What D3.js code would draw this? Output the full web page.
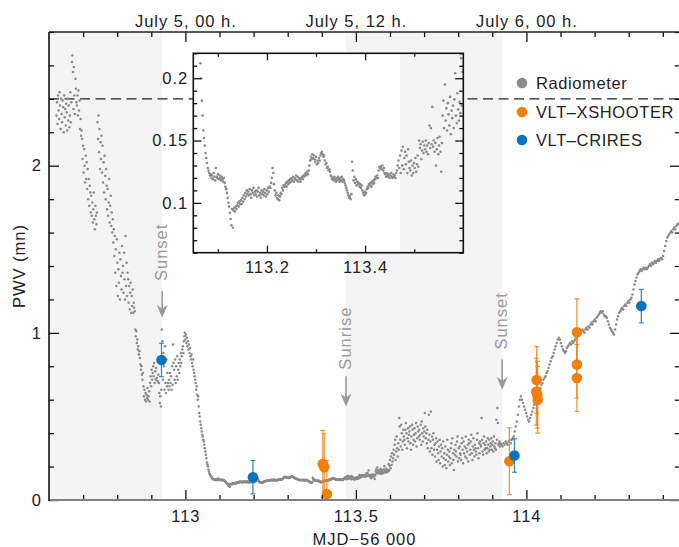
<!DOCTYPE html>
<html><head><meta charset="utf-8">
<script src="https://cdn.jsdelivr.net/npm/d3@7"></script>
<style>
body{margin:0;background:#fff;}
svg text{font-family:"Liberation Sans",Arial,Helvetica,sans-serif;font-size:16.5px;letter-spacing:1px;}
svg text.leg{letter-spacing:0.6px;}
</style></head><body>
<svg id="chart" width="679" height="547"></svg>
<script>
// ---------------- DATA ----------------
const mjdDomain = [112.6, 114.45];
const pwvDomain = [0, 2.8];
const insetMjdDomain = [113.05, 113.6];
const insetPwvDomain = [0.06, 0.22];

// Radiometer, regular cadence (start MJD-56000, step in days)
const radioStart = 112.622, radioStep = 0.0015;
const radioPWV = [
2.30,2.38,2.25,2.42,2.33,2.28,2.44,2.36,2.22,2.40,
2.31,2.26,2.39,2.35,2.20,2.42,2.29,2.34,2.24,2.37,
2.32,2.21,2.40,2.27,2.36,2.23,2.30,2.44,2.26,2.38,
2.62,2.66,2.56,2.34,2.59,2.42,2.31,2.52,2.46,2.38,
2.36,2.42,2.30,2.45,2.33,2.39,2.22,2.28,2.18,2.21,
2.16,2.04,2.12,1.96,2.10,2.00,1.90,2.06,1.92,2.02,
1.86,1.98,1.80,1.92,1.76,1.88,1.84,1.72,1.82,1.70,
1.78,1.66,1.74,1.84,1.68,1.62,1.76,1.70,1.65,1.72,
2.26,2.16,2.30,2.08,2.22,1.98,2.14,2.04,2.18,1.96,
2.12,1.90,2.02,1.84,2.06,1.94,1.80,1.98,1.88,1.74,
1.86,1.70,1.78,1.92,1.66,1.76,1.82,1.64,1.72,1.60,
1.68,1.54,1.62,1.46,1.58,1.36,1.50,1.28,1.56,1.42,
1.22,1.38,1.30,1.48,1.20,1.44,1.34,1.26,1.52,1.36,
1.40,1.24,1.48,1.32,1.20,1.58,1.28,1.42,1.22,1.36,
1.32,1.18,1.28,1.14,1.24,1.30,1.12,1.22,1.16,1.26,
1.12,1.18,1.15,1.13,1.02,0.98,1.01,0.94,0.96,0.90,
0.92,0.87,0.89,0.85,0.81,0.78,0.80,0.75,0.72,0.76,
0.68,0.62,0.66,0.60,0.64,0.59,0.63,0.61,0.67,0.60,
0.62,0.65,0.59,0.70,0.74,0.68,0.78,0.72,0.76,0.80,
0.74,0.82,0.70,0.77,0.72,0.79,0.73,0.84,0.71,0.75,
0.70,0.64,0.58,0.62,0.56,0.66,1.02,0.95,0.72,0.88,
0.80,0.66,0.92,0.70,0.64,0.84,0.68,0.76,0.70,0.66,
0.72,0.68,0.76,0.70,0.74,0.66,0.80,0.69,0.93,0.82,
0.78,0.72,0.84,0.70,0.80,0.74,0.86,0.72,0.78,0.82,
0.76,0.84,0.80,0.88,0.82,0.86,0.90,0.92,0.88,0.95,
0.98,1.00,0.96,0.99,0.94,0.97,0.92,0.95,0.90,0.93,
0.88,0.91,0.86,0.84,0.87,0.82,0.80,0.84,0.78,0.76,
0.74,0.72,0.70,0.66,0.68,0.63,0.60,0.62,0.56,0.52,
0.50,0.47,0.45,0.43,0.41,0.39,0.38,0.36,0.35,0.33,
0.31,0.29,0.27,0.25,0.225,0.212,0.200,0.182,0.170,0.158,
0.152,0.146,0.140,0.136,0.132,0.128,0.126,0.124,0.122,0.123,
0.120,0.122,0.119,0.124,0.121,0.118,0.128,0.121,0.120,0.123,
0.119,0.122,0.120,0.118,0.121,0.119,0.117,0.120,0.116,0.113,
0.111,0.108,0.104,0.100,0.097,0.092,0.087,0.082,0.095,0.080,
0.094,0.096,0.093,0.097,0.095,0.098,0.100,0.097,0.101,0.099,
0.102,0.099,0.104,0.101,0.106,0.103,0.108,0.105,0.110,0.107,
0.109,0.106,0.111,0.107,0.104,0.110,0.108,0.112,0.106,0.109,
0.107,0.110,0.105,0.109,0.112,0.106,0.108,0.104,0.110,0.107,
0.109,0.106,0.111,0.108,0.105,0.110,0.107,0.112,0.109,0.113,
0.112,0.116,0.120,0.128,0.124,0.115,0.110,0.106,0.108,0.104,
0.103,0.106,0.102,0.105,0.108,0.107,0.112,0.110,0.114,0.113,
0.114,0.116,0.113,0.117,0.115,0.118,0.116,0.119,0.117,0.120,
0.118,0.121,0.117,0.120,0.119,0.122,0.118,0.121,0.117,0.120,
0.119,0.117,0.120,0.121,0.119,0.122,0.121,0.123,0.124,0.122,
0.125,0.123,0.126,0.130,0.134,0.137,0.135,0.139,0.136,0.138,
0.135,0.133,0.137,0.131,0.134,0.132,0.136,0.134,0.138,0.140,
0.141,0.139,0.137,0.138,0.134,0.131,0.132,0.128,0.129,0.126,
0.127,0.125,0.122,0.121,0.119,0.120,0.118,0.121,0.119,0.117,
0.120,0.118,0.121,0.119,0.117,0.120,0.118,0.121,0.117,0.119,
0.118,0.116,0.114,0.112,0.110,0.108,0.106,0.104,0.105,0.103,
0.107,0.133,0.126,0.118,0.121,0.116,0.119,0.114,0.117,0.115,
0.116,0.113,0.115,0.112,0.114,0.110,0.108,0.106,0.109,0.107,
0.108,0.111,0.113,0.112,0.115,0.114,0.116,0.113,0.117,0.115,
0.118,0.116,0.119,0.121,0.120,0.122,0.120,0.126,0.129,0.128,
0.129,0.127,0.130,0.126,0.128,0.124,0.123,0.121,0.124,0.122,
0.121,0.123,0.120,0.122,0.124,0.121,0.120,0.123,0.121,0.122,
0.120,0.124,0.126,0.130,0.134,0.128,0.138,0.124,0.142,0.130,
0.145,0.127,0.136,0.141,0.131,0.138,0.124,0.143,0.133,0.128,
0.126,0.134,0.122,0.130,0.124,0.132,0.128,0.136,0.125,0.131,
0.138,0.129,0.150,0.144,0.147,0.135,0.142,0.149,0.140,0.146,
0.143,0.150,0.141,0.146,0.139,0.148,0.162,0.144,0.160,0.147,
0.177,0.145,0.150,0.141,0.148,0.130,0.143,0.152,0.139,0.146,
0.153,0.141,0.125,0.148,0.170,0.182,0.160,0.195,0.166,0.176,
0.158,0.180,0.171,0.162,0.185,0.155,0.174,0.168,0.178,0.160,
0.183,0.204,0.170,0.164,0.188,0.175,0.166,0.181,0.172,0.216,
0.178,0.205,0.24,0.19,0.26,0.21,0.28,0.23,0.25,0.30,
0.27,0.33,0.36,0.24,0.29,0.38,0.31,0.26,0.34,0.30,
0.49,0.44,0.36,0.32,0.45,0.40,0.30,0.35,0.42,0.38,
0.36,0.33,0.42,0.46,0.40,0.31,0.37,0.43,0.35,0.39,
0.41,0.44,0.34,0.30,0.38,0.45,0.42,0.33,0.36,0.39,
0.43,0.35,0.40,0.46,0.32,0.37,0.44,0.41,0.38,0.42,
0.36,0.39,0.45,0.33,0.47,0.40,0.35,0.43,0.38,0.41,
0.52,0.44,0.37,0.40,0.34,0.42,0.31,0.36,0.51,0.39,
0.29,0.35,0.53,0.31,0.38,0.27,0.36,0.40,0.30,0.33,
0.26,0.34,0.37,0.23,0.30,0.35,0.28,0.24,0.32,0.36,
0.22,0.29,0.33,0.26,0.31,0.20,0.35,0.25,0.28,0.21,
0.32,0.24,0.19,0.27,0.36,0.30,0.23,0.26,0.29,0.21,
0.25,0.31,0.34,0.22,0.37,0.28,0.24,0.18,0.30,0.27,
0.33,0.29,0.26,0.35,0.38,0.23,0.31,0.25,0.32,0.28,
0.27,0.24,0.34,0.37,0.30,0.22,0.35,0.28,0.32,0.26,
0.38,0.31,0.25,0.29,0.33,0.23,0.36,0.34,0.27,0.30,
0.35,0.39,0.28,0.24,0.32,0.37,0.30,0.26,0.33,0.31,
0.29,0.27,0.36,0.40,0.31,0.25,0.34,0.28,0.35,0.33,
0.32,0.49,0.36,0.29,0.27,0.34,0.38,0.30,0.33,0.31,
0.35,0.28,0.31,0.37,0.33,0.29,0.36,0.30,0.32,0.34,
0.37,0.30,0.33,0.35,0.29,0.38,0.32,0.31,0.34,0.30,
0.48,0.36,0.55,0.46,0.33,0.34,0.35,0.32,0.34,0.33
];
const radioLateStart = 113.927, radioLateStep = 0.003;
const radioLatePWV = [
0.33,0.32,0.34,0.33,0.35,0.34,0.33,0.35,0.36,0.34,0.36,0.37,
0.38,0.41,0.44,0.47,0.51,
0.56,0.60,0.62,
0.60,0.58,0.56,0.54,0.52,0.50,0.48,
0.47,0.49,0.51,0.53,0.55,0.57,0.59,0.61,
0.62,0.64,0.66,0.67,0.69,0.70,0.72,0.73,0.74,0.76,0.77,0.79,0.81,0.83,0.85,0.86,0.88,0.90,0.92,0.94,
0.96,0.97,0.96,0.94,0.92,
0.90,0.89,0.88,0.89,0.91,
0.92,0.93,0.94,0.93,0.95,0.94,0.95,0.96,0.97,
0.98,0.99,1.00,0.99,1.01,1.02,1.01,1.00,1.02,1.03,
1.02,1.04,1.03,1.05,1.06,1.05,1.07,1.08,1.07,1.09,1.10,1.11,
1.12,1.13,1.12,1.13,1.11,1.10,1.10,
1.09,1.07,1.05,1.03,1.02,1.01,1.00,0.99,
1.02,1.05,1.08,1.10,1.12,
1.13,1.14,1.15,1.14,1.16,1.17,1.16,1.18,1.19,1.18,1.20,1.21,
1.23,1.26,1.29,1.31,1.33,1.35,1.36,1.37,
1.38,1.37,1.38,1.39,1.38,1.39,1.38,1.39,1.40,
1.41,1.40,1.42,1.41,1.42,1.43,1.42,1.43,1.44,1.43,1.44,1.45,1.44,
1.46,1.49,1.52,1.55,1.57,1.58,1.59,
1.60,1.61,1.60,1.62,1.63,1.62,1.64,1.65,1.65,1.66
];

const xshooterMJD = [113.403,113.407,113.415,113.950,114.030,114.029,114.032,114.033,114.148,114.148,114.148];
const xshooterPWV = [0.216,0.196,0.036,0.232,0.718,0.648,0.630,0.600,1.004,0.810,0.730];
const xshooterErr = [0.2,0.2,0.2,0.2,0.2,0.2,0.2,0.2,0.2,0.2,0.2];

const criresMJD = [112.930,113.198,113.965,114.337];
const criresPWV = [0.838,0.136,0.266,1.160];
const criresErr = [0.1,0.1,0.1,0.1];

const daylightStart = [112.6, 113.471];
const daylightEnd = [112.932, 113.929];

const sunLabels = ["Sunset","Sunrise","Sunset"];
const sunMJD = [112.932, 113.471, 113.929];
const sunArrowTop = [1.25, 0.74, 0.84];
const sunArrowTip = [1.09, 0.56, 0.66];
const sunTextBottom = [1.31, 0.78, 0.90];

const thresholdPWV = 2.4;

const xMajorTicks = [113, 113.5, 114];
const xMajorLabels = ["113", "113.5", "114"];
const topLabels = ["July 5, 00 h.", "July 5, 12 h.", "July 6, 00 h."];
const yMajorTicks = [0, 1, 2];
const yMajorLabels = ["0", "1", "2"];
const insetXMajor = [113.2, 113.4];
const insetXLabels = ["113.2", "113.4"];
const insetXMinor = [113.1, 113.3, 113.5];
const insetYMajor = [0.1, 0.15, 0.2];
const insetYLabels = ["0.1", "0.15", "0.2"];

const legendNames = ["Radiometer", "VLT–XSHOOTER", "VLT–CRIRES"];
const COL_RADIO = "#8a8a8a", COL_X = "#f07f0c", COL_C = "#0a73bd";
const legendColors = [COL_RADIO, COL_X, COL_C];

// ---------------- BUILD ----------------
const radio = radioPWV.map((v,i)=>({t: radioStart + i*radioStep, v}))
  .concat(radioLatePWV.map((v,i)=>({t: radioLateStart + i*radioLateStep, v})));
const xsh = xshooterMJD.map((t,i)=>({t, v:xshooterPWV[i], e:xshooterErr[i]}));
const cri = criresMJD.map((t,i)=>({t, v:criresPWV[i], e:criresErr[i]}));

const TXT = "#222";
const svg = d3.select("#chart");
const P = {l:49, r:679.85, t:32, b:500};
const x = d3.scaleLinear().domain(mjdDomain).range([P.l, P.r]);
const y = d3.scaleLinear().domain(pwvDomain).range([P.b, P.t]);

const defs = svg.append("defs");
defs.append("clipPath").attr("id","mainClip").append("rect")
  .attr("x",P.l).attr("y",P.t).attr("width",P.r-P.l).attr("height",P.b-P.t);

const main = svg.append("g").attr("clip-path","url(#mainClip)");
main.selectAll("rect.day").data(daylightStart).join("rect")
  .attr("x",(d)=>x(d)).attr("y",P.t)
  .attr("width",(d,i)=>x(daylightEnd[i])-x(d)).attr("height",P.b-P.t)
  .attr("fill","#f4f4f4");
main.append("line").attr("x1",P.l).attr("x2",P.r).attr("y1",y(thresholdPWV)).attr("y2",y(thresholdPWV))
  .attr("stroke","#222").attr("stroke-width",1.2).attr("stroke-dasharray","10,5.5");
main.selectAll("circle.radio").data(radio).join("circle")
  .attr("cx",d=>x(d.t)).attr("cy",d=>y(d.v)).attr("r",1.25).attr("fill",COL_RADIO);

function drawErr(data, col){
  const g = main.append("g");
  g.selectAll("line.eb").data(data).join("line")
    .attr("x1",d=>x(d.t)).attr("x2",d=>x(d.t))
    .attr("y1",d=>y(d.v-d.e)).attr("y2",d=>y(d.v+d.e))
    .attr("stroke",col).attr("stroke-width",1.3).attr("stroke-opacity",0.8);
  ["lo","hi"].forEach(k=>{
    g.selectAll("line.cap"+k).data(data).join("line")
      .attr("x1",d=>x(d.t)-2.5).attr("x2",d=>x(d.t)+2.5)
      .attr("y1",d=>y(k==="lo"?d.v-d.e:d.v+d.e)).attr("y2",d=>y(k==="lo"?d.v-d.e:d.v+d.e))
      .attr("stroke",col).attr("stroke-width",1.2).attr("stroke-opacity",0.8);
  });
  g.selectAll("circle").data(data).join("circle")
    .attr("cx",d=>x(d.t)).attr("cy",d=>y(d.v)).attr("r",5.3).attr("fill",col);
}
drawErr(xsh, COL_X);
drawErr(cri, COL_C);

function axisG(gen, tr){
  const g = svg.append("g").attr("transform",tr).call(gen);
  g.attr("font-family",null).attr("font-size",null);
  g.select(".domain").remove();
  g.selectAll(".tick line").attr("stroke","#111").attr("stroke-width",1.3);
  g.selectAll(".tick text").attr("fill",TXT);
  return g;
}
const xMinor = d3.range(1127,1145).map(d=>d/10).filter(d=>!xMajorTicks.includes(d));
const yMinor = d3.range(0,29,2).map(d=>d/10).filter(d=>!yMajorTicks.includes(d));

axisG(d3.axisBottom(x).tickValues(xMinor).tickSize(-5).tickSizeOuter(0).tickFormat(""), `translate(0,${P.b})`);
axisG(d3.axisBottom(x).tickValues(xMajorTicks).tickSize(-10).tickSizeOuter(0).tickPadding(10)
  .tickFormat((d,i)=>xMajorLabels[i]), `translate(0,${P.b})`);
axisG(d3.axisTop(x).tickValues(xMinor).tickSize(-5).tickSizeOuter(0).tickFormat(""), `translate(0,${P.t})`);
axisG(d3.axisTop(x).tickValues(xMajorTicks).tickSize(-10).tickSizeOuter(0).tickPadding(5.5)
  .tickFormat((d,i)=>topLabels[i]), `translate(0,${P.t})`);
axisG(d3.axisLeft(y).tickValues(yMinor).tickSize(-5).tickSizeOuter(0).tickFormat(""), `translate(${P.l},0)`);
axisG(d3.axisLeft(y).tickValues(yMajorTicks).tickSize(-10).tickSizeOuter(0).tickPadding(7)
  .tickFormat((d,i)=>yMajorLabels[i]), `translate(${P.l},0)`);
axisG(d3.axisRight(y).tickValues(yMinor).tickSize(-5).tickSizeOuter(0).tickFormat(""), `translate(${P.r},0)`);
axisG(d3.axisRight(y).tickValues(yMajorTicks).tickSize(-10).tickSizeOuter(0).tickFormat(""), `translate(${P.r},0)`);

svg.append("line").attr("x1",P.l).attr("x2",P.r).attr("y1",P.b).attr("y2",P.b).attr("stroke","#808080").attr("stroke-width",2);
svg.append("line").attr("x1",P.l).attr("x2",P.r).attr("y1",P.t).attr("y2",P.t).attr("stroke","#222").attr("stroke-width",1.3);
svg.append("line").attr("x1",P.l).attr("x2",P.l).attr("y1",P.t).attr("y2",P.b+1).attr("stroke","#111").attr("stroke-width",1.6);

svg.append("text").attr("transform",`translate(19,${(P.t+P.b)/2}) rotate(-90)`)
  .attr("text-anchor","middle").attr("dy","0.35em").attr("fill",TXT).text("PWV (mn)");
svg.append("text").attr("x",(P.l+P.r)/2).attr("y",545).attr("text-anchor","middle")
  .attr("fill",TXT).text("MJD−56 000");

const ANN = "#999";
sunMJD.forEach((t,i)=>{
  const ax = x(t);
  svg.append("text").attr("transform",`translate(${ax-1},${y(sunTextBottom[i])}) rotate(-90)`)
    .attr("text-anchor","start").attr("dy","0.35em").attr("fill",ANN).text(sunLabels[i]);
  const top = y(sunArrowTop[i]), tip = y(sunArrowTip[i]);
  svg.append("line").attr("x1",ax).attr("x2",ax).attr("y1",top).attr("y2",tip-6)
    .attr("stroke",ANN).attr("stroke-width",1.6);
  svg.append("path").attr("d",`M${ax},${tip} L${ax-5.5},${tip-13} L${ax},${tip-9} L${ax+5.5},${tip-13} Z`)
    .attr("fill",ANN);
});

// ---- inset ----
const I = {l:193.3, r:463.3, t:53.3, b:252.7};
const xi = d3.scaleLinear().domain(insetMjdDomain).range([I.l, I.r]);
const yi = d3.scaleLinear().domain(insetPwvDomain).range([I.b, I.t]);
defs.append("clipPath").attr("id","insetClip").append("rect")
  .attr("x",I.l).attr("y",I.t).attr("width",I.r-I.l).attr("height",I.b-I.t);
svg.append("rect").attr("x",I.l).attr("y",I.t).attr("width",I.r-I.l).attr("height",I.b-I.t).attr("fill","#fff");
const ins = svg.append("g").attr("clip-path","url(#insetClip)");
ins.selectAll("rect.day").data(daylightStart).join("rect")
  .attr("x",d=>xi(d)).attr("y",I.t)
  .attr("width",(d,i)=>Math.max(0,xi(daylightEnd[i])-xi(d))).attr("height",I.b-I.t).attr("fill","#f4f4f4");
ins.selectAll("circle").data(radio.filter(d=>d.t>=insetMjdDomain[0]-0.002 && d.t<=insetMjdDomain[1]+0.002)).join("circle")
  .attr("cx",d=>xi(d.t)).attr("cy",d=>yi(d.v)).attr("r",1.3).attr("fill",COL_RADIO);

const iyMinor = d3.range(6,23).map(d=>d/100).filter(d=>!insetYMajor.some(m=>Math.abs(m-d)<1e-9));
axisG(d3.axisBottom(xi).tickValues(insetXMinor).tickSize(-3.5).tickSizeOuter(0).tickFormat(""), `translate(0,${I.b})`);
axisG(d3.axisBottom(xi).tickValues(insetXMajor).tickSize(-7).tickSizeOuter(0).tickPadding(9)
  .tickFormat((d,i)=>insetXLabels[i]), `translate(0,${I.b})`);
axisG(d3.axisTop(xi).tickValues(insetXMinor).tickSize(-3.5).tickSizeOuter(0).tickFormat(""), `translate(0,${I.t})`);
axisG(d3.axisTop(xi).tickValues(insetXMajor).tickSize(-7).tickSizeOuter(0).tickFormat(""), `translate(0,${I.t})`);
axisG(d3.axisLeft(yi).tickValues(iyMinor).tickSize(-4).tickSizeOuter(0).tickFormat(""), `translate(${I.l},0)`);
axisG(d3.axisLeft(yi).tickValues(insetYMajor).tickSize(-8).tickSizeOuter(0).tickPadding(5)
  .tickFormat((d,i)=>insetYLabels[i]), `translate(${I.l},0)`);
axisG(d3.axisRight(yi).tickValues(iyMinor).tickSize(-4).tickSizeOuter(0).tickFormat(""), `translate(${I.r},0)`);
axisG(d3.axisRight(yi).tickValues(insetYMajor).tickSize(-8).tickSizeOuter(0).tickFormat(""), `translate(${I.r},0)`);
svg.append("rect").attr("x",I.l).attr("y",I.t).attr("width",I.r-I.l).attr("height",I.b-I.t)
  .attr("fill","none").attr("stroke","#111").attr("stroke-width",1.6);

// ---- legend ----
const lg = svg.append("g");
const legendY = [83, 112, 140];
legendNames.forEach((n,i)=>{
  lg.append("circle").attr("cx",522).attr("cy",legendY[i]).attr("r",5.3).attr("fill",legendColors[i]);
  lg.append("text").attr("class","leg").attr("x",536).attr("y",legendY[i]).attr("dy","0.35em").attr("fill",TXT).text(n);
});
</script>
</body></html>
